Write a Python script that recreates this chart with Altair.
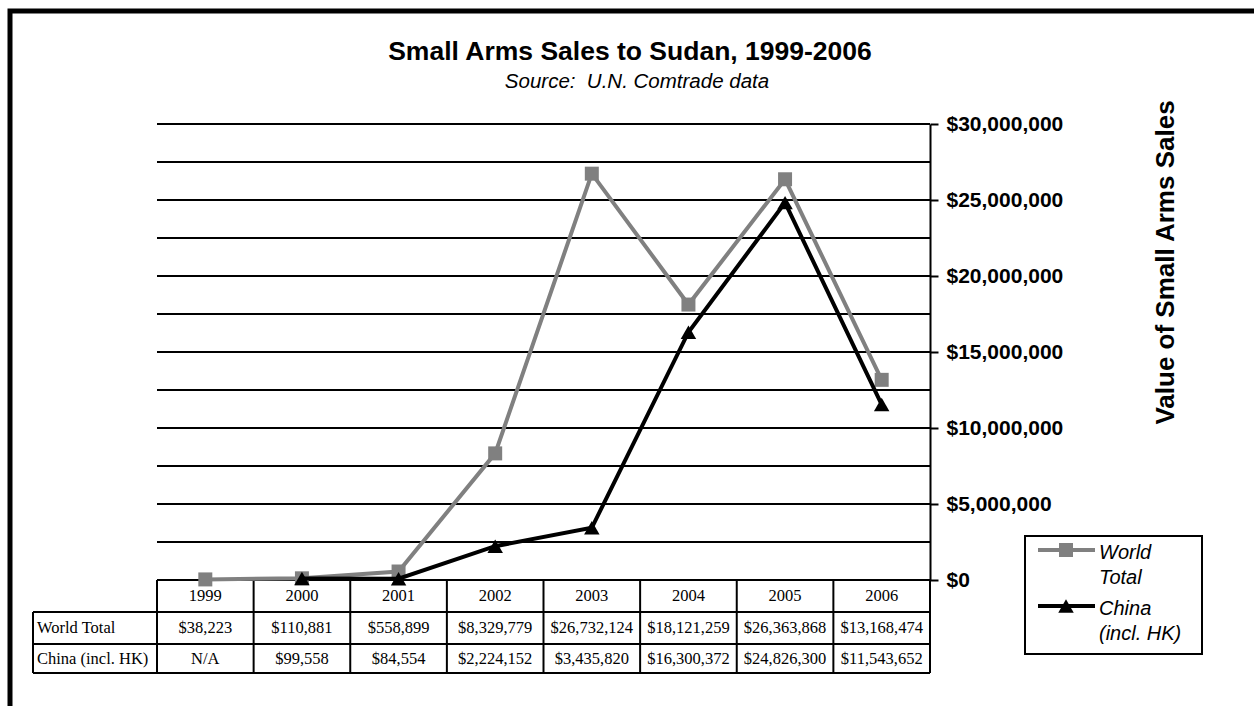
import altair as alt
import pandas as pd

# ---------------- data ----------------
years = [1999, 2000, 2001, 2002, 2003, 2004, 2005, 2006]
world_total = [38223, 110881, 558899, 8329779, 26732124, 18121259, 26363868, 13168474]
china = [None, 99558, 84554, 2224152, 3435820, 16300372, 24826300, 11543652]
grid_values = [0, 2500000, 5000000, 7500000, 10000000, 12500000, 15000000,
               17500000, 20000000, 22500000, 25000000, 27500000, 30000000]
label_values = [0, 5000000, 10000000, 15000000, 20000000, 25000000, 30000000]

SANS = "Liberation Sans"
SERIF = "Liberation Serif"
W, H = 773, 456
GRAY = "#808080"


def money(v):
    return "N/A" if v is None else "${:,.0f}".format(v)


df_world = pd.DataFrame({"year": years, "value": world_total,
                         "label": [money(v) for v in world_total]})
df_china = pd.DataFrame({"year": years, "value": china,
                         "label": [money(v) for v in china]})
df_china_line = df_china.dropna(subset=["value"])
df_grid = pd.DataFrame({"value": grid_values})
df_bounds = pd.DataFrame({"b": [y - 0.5 for y in years] + [years[-1] + 0.5]})
df_years = pd.DataFrame({"year": years, "label": [str(y) for y in years]})
one = pd.DataFrame({"a": [0]})

xs = alt.Scale(domain=[years[0] - 0.5, years[-1] + 0.5], nice=False, zero=False)
ys = alt.Scale(domain=[0, 30000000], nice=False, zero=True)

YAXIS = alt.Axis(
    orient="right", values=label_values, format="$,.0f", grid=False,
    domainColor="black", domainWidth=2, tickColor="black", tickWidth=2, tickSize=8,
    labelFont=SANS, labelFontSize=21, labelFontWeight="bold", labelColor="black",
    labelPadding=8,
    title="Value of Small Arms Sales", titleFont=SANS, titleFontSize=26,
    titleFontWeight="bold", titleColor="black", titleAngle=270,
    titleX=235, titleY=138, titleAlign="center", titleBaseline="middle")


def Y(field="value:Q"):
    return alt.Y(field, scale=ys, axis=YAXIS)


def X(field="year:Q"):
    return alt.X(field, scale=xs, axis=None)


# frame around the whole picture
frame = alt.Chart(one).mark_rect(fill="transparent", stroke="black", strokeWidth=5).encode(
    x=alt.value(-147), x2=alt.value(1200), y=alt.value(-113), y2=alt.value(700))

title = alt.Chart(one).mark_text(font=SANS, fontSize=26.5, fontWeight="bold", align="center",
                                 baseline="alphabetic", color="black").encode(
    x=alt.value(473), y=alt.value(-64), text=alt.value("Small Arms Sales to Sudan, 1999-2006"))
subtitle = alt.Chart(one).mark_text(font=SANS, fontSize=20.5, fontStyle="italic", align="center",
                                    baseline="alphabetic", color="black").encode(
    x=alt.value(480), y=alt.value(-36), text=alt.value("Source:\u00a0 U.N. Comtrade data"))

grid = alt.Chart(df_grid).mark_rule(color="black", strokeWidth=2).encode(
    x=alt.value(0), x2=alt.value(W), y=Y())

# table
vlines = alt.Chart(df_bounds).mark_rule(color="black", strokeWidth=2).encode(
    x=X("b:Q"), y=alt.value(H), y2=alt.value(549))
hlines = []
for yy in [488, 520, 549]:
    hlines.append(alt.Chart(one).mark_rule(color="black", strokeWidth=2).encode(
        x=alt.value(-124), x2=alt.value(W), y=alt.value(yy)))
left_edge = alt.Chart(one).mark_rule(color="black", strokeWidth=2).encode(
    x=alt.value(-124), y=alt.value(488), y2=alt.value(549))

cell_style = dict(font=SERIF, fontSize=16.5, align="center", baseline="middle", color="black")
year_text = alt.Chart(df_years).mark_text(**cell_style).encode(
    x=X(), y=alt.value(472), text="label:N")
world_text = alt.Chart(df_world).mark_text(**cell_style).encode(
    x=X(), y=alt.value(504), text="label:N")
china_text = alt.Chart(df_china).mark_text(**cell_style).encode(
    x=X(), y=alt.value(535), text="label:N")
row_head_style = dict(font=SERIF, fontSize=16.5, align="left", baseline="middle", color="black")
row1 = alt.Chart(one).mark_text(**row_head_style).encode(
    x=alt.value(-120), y=alt.value(504), text=alt.value("World Total"))
row2 = alt.Chart(one).mark_text(**row_head_style).encode(
    x=alt.value(-120), y=alt.value(535), text=alt.value("China (incl. HK)"))

# series
world_line = alt.Chart(df_world).mark_line(color=GRAY, strokeWidth=4).encode(x=X(), y=Y())
world_pts = alt.Chart(df_world).mark_point(shape="square", filled=True, color=GRAY,
                                           size=196, opacity=1).encode(x=X(), y=Y())
china_line = alt.Chart(df_china_line).mark_line(color="black", strokeWidth=4).encode(x=X(), y=Y())
china_pts = alt.Chart(df_china_line).mark_point(shape="triangle-up", filled=True, color="black",
                                                size=240, opacity=1).encode(x=X(), y=Y())

# legend
leg_box = alt.Chart(one).mark_rect(fill="white", stroke="black", strokeWidth=2).encode(
    x=alt.value(868), x2=alt.value(1045), y=alt.value(412), y2=alt.value(530))
leg_w_line = alt.Chart(one).mark_rule(color=GRAY, strokeWidth=4).encode(
    x=alt.value(881), x2=alt.value(938), y=alt.value(426))
leg_w_pt = alt.Chart(one).mark_point(shape="square", filled=True, color=GRAY, size=196,
                                     opacity=1).encode(x=alt.value(909), y=alt.value(426))
leg_c_line = alt.Chart(one).mark_rule(color="black", strokeWidth=4).encode(
    x=alt.value(881), x2=alt.value(938), y=alt.value(482))
leg_c_pt = alt.Chart(one).mark_point(shape="triangle-up", filled=True, color="black", size=240,
                                     opacity=1).encode(x=alt.value(909), y=alt.value(482))
leg_style = dict(font=SANS, fontSize=20, fontStyle="italic", align="left",
                 baseline="alphabetic", color="black")
leg_texts = []
for txt, yy in [("World", 435), ("Total", 460), ("China", 491), ("(incl. HK)", 516)]:
    leg_texts.append(alt.Chart(one).mark_text(**leg_style).encode(
        x=alt.value(942), y=alt.value(yy), text=alt.value(txt)))

chart = alt.layer(
    frame, title, subtitle, grid, vlines, *hlines, left_edge,
    year_text, world_text, china_text, row1, row2,
    world_line, world_pts, china_line, china_pts,
    leg_box, leg_w_line, leg_w_pt, leg_c_line, leg_c_pt, *leg_texts
).properties(
    width=W, height=H,
    padding={"left": 157, "top": 124, "right": 324, "bottom": 126},
    autosize=alt.AutoSizeParams(type="none"),
    background="white",
).configure_view(stroke="transparent")

chart.save("out.html", embed_options={"renderer": "svg", "actions": False})
